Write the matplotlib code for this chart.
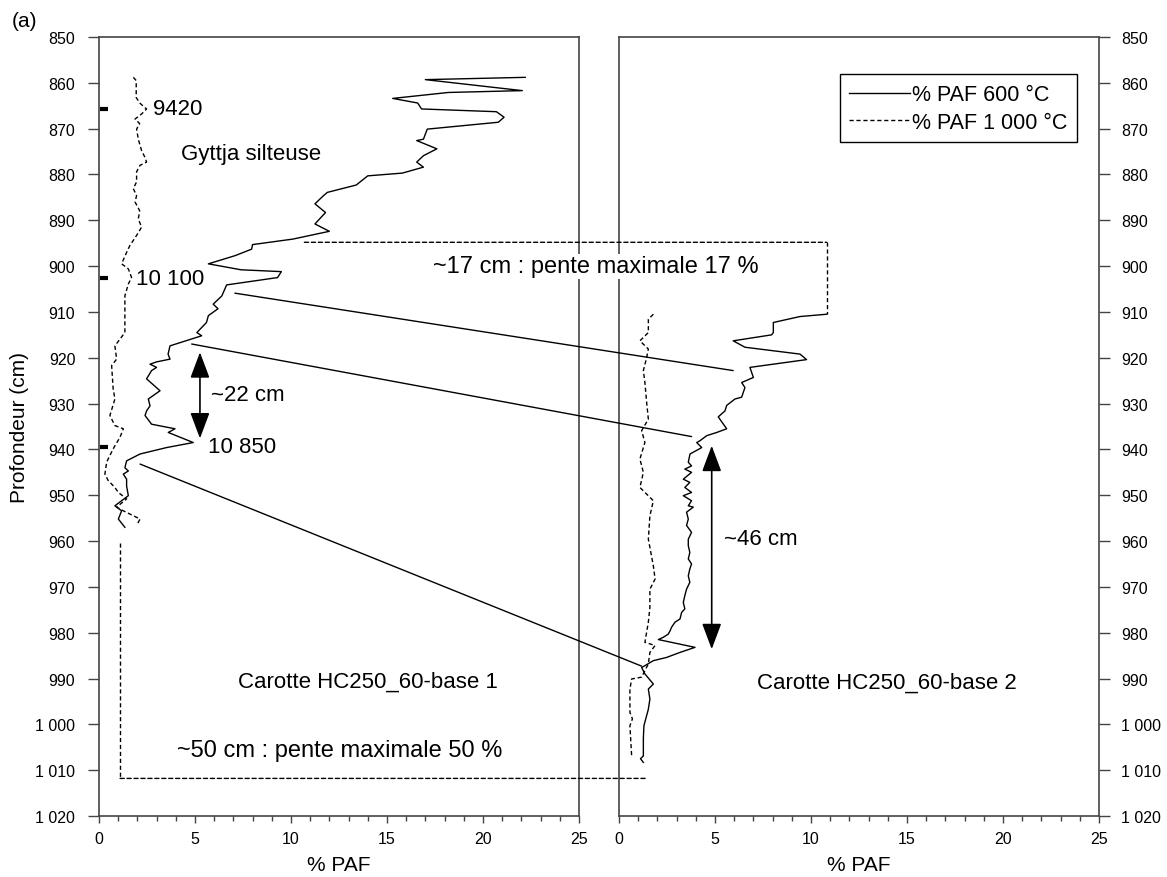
import numpy as np
import matplotlib
matplotlib.use('Agg')
import matplotlib.pyplot as plt
from matplotlib.patches import ConnectionPatch

plt.rcParams['font.family'] = ['Liberation Sans', 'DejaVu Sans']

# Carotte 1 : % PAF 600 °C
d1_600 = [858.8, 859.3, 861.7, 862.1, 863.4, 864.4, 865.7, 866.3, 867.5, 868.6,
          870.1, 872.3, 872.6, 874.4, 875.9, 877.3, 878.4, 879.7, 880.3, 882.3,
          883.9, 884.6, 886.4, 888.3, 890.8, 892.4, 894.1, 895.3, 896.3, 897.7,
          899.5, 900.8, 901.2, 902.5, 904.1, 906.5, 908.3, 909.3, 910.8, 912.3,
          914.5, 915.2, 917.4, 919.2, 920.3, 920.9, 921.4, 922.1, 922.8, 924.6,
          927.2, 929.0, 930.5, 931.6, 932.6, 934.5, 935.5, 936.3, 938.5, 939.6,
          941.0, 942.5, 944.0, 944.7, 945.4, 946.5, 948.0, 950.1, 952.3, 953.4,
          955.2, 957.0]
v1_600 = [22.2, 17.0, 22.05, 18.2, 15.3, 16.6, 16.8, 20.7, 21.1, 20.8,
          17.1, 16.9, 16.55, 17.6, 16.9, 16.55, 16.9, 15.8, 14.0, 13.4,
          11.9, 11.7, 11.25, 11.8, 11.25, 12.0, 10.1, 8.0, 7.95, 7.1,
          5.7, 7.4, 9.5, 9.3, 6.65, 6.4, 5.95, 6.2, 5.7, 5.6,
          5.1, 5.35, 3.7, 3.6, 3.7, 3.0, 2.66, 3.0, 2.74, 2.48,
          3.18, 2.57, 2.66, 2.48, 2.4, 2.74, 3.96, 3.61, 4.91, 3.52,
          2.14, 1.44, 1.35, 1.53, 1.27, 1.44, 1.44, 1.53, 0.83, 1.18,
          1.01, 1.35]

# Carotte 1 : % PAF 1 000 °C
d1_1000 = [858.8, 859.5, 863.2, 864.4, 865.7, 866.8, 867.9, 868.9, 870.1, 872.3,
           874.8, 876.3, 877.3, 878.0, 879.4, 881.6, 883.1, 884.6, 886.0, 887.9,
           889.7, 891.5, 893.3, 895.5, 897.0, 899.5, 900.6, 902.5, 903.9, 906.5,
           914.5, 917.4, 920.3, 921.7, 926.8, 929.0, 932.6, 934.8, 935.5, 937.4,
           939.2, 941.3, 942.8, 945.4, 946.8, 948.3, 949.4, 950.8, 952.6, 953.4,
           955.2, 956.6]
v1_1000 = [1.79, 1.94, 1.94, 2.12, 2.48, 2.22, 1.88, 2.12, 1.96, 2.05,
           2.22, 2.4, 2.48, 2.14, 1.96, 1.96, 1.79, 1.96, 1.88, 2.12,
           2.05, 2.22, 1.96, 1.61, 1.44, 1.18, 1.53, 1.7, 1.53, 1.35,
           1.35, 0.83, 0.92, 0.66, 0.74, 0.83, 0.57, 0.83, 1.27, 1.09,
           0.83, 0.57, 0.4, 0.31, 0.48, 0.83, 1.01, 1.44, 0.92, 1.27,
           2.14, 1.96]

# Carotte 2 : % PAF 600 °C
d2_600 = [910.5, 911.0, 912.3, 914.5, 915.0, 916.3, 917.7, 919.2, 920.4, 922.1,
          924.3, 925.4, 926.5, 928.6, 929.0, 930.4, 931.6, 932.9, 935.5, 936.3,
          937.0, 938.1, 938.5, 939.6, 941.0, 942.8, 943.6, 944.3, 945.0, 946.5,
          947.2, 948.3, 949.4, 950.1, 951.2, 952.3, 952.6, 953.7, 955.2, 956.6,
          958.1, 959.6, 961.0, 962.5, 963.9, 965.0, 966.1, 967.6, 969.0, 970.5,
          971.9, 973.4, 974.8, 975.6, 977.0, 977.7, 978.8, 979.6, 980.3, 981.0,
          981.5, 983.2, 984.3, 985.4, 986.1, 987.2, 987.6, 989.0, 991.2, 992.3,
          994.5, 996.7, 998.1, 1000.3, 1003.0, 1006.9, 1007.5, 1008.3]
v2_600 = [10.82, 9.43, 8.04, 8.04, 7.95, 5.95, 6.56, 9.43, 9.77, 6.82,
          7.0, 6.39, 6.56, 6.39, 6.04, 5.61, 5.52, 5.17, 5.61, 5.09,
          4.57, 4.22, 4.05, 4.31, 3.7, 3.61, 3.78, 3.43, 3.78, 3.35,
          3.69, 3.43, 3.78, 3.35, 3.78, 3.61, 3.87, 3.52, 3.61, 3.52,
          3.78, 3.61, 3.61, 3.69, 3.61, 3.78, 3.69, 3.61, 3.69, 3.52,
          3.43, 3.35, 3.43, 3.26, 3.18, 2.92, 2.74, 2.66, 2.57, 2.31,
          2.05, 3.96, 3.18, 2.48, 1.79, 1.35, 1.18, 1.35, 1.79, 1.53,
          1.61, 1.53, 1.44, 1.3, 1.27, 1.27, 1.12, 1.27]

# Carotte 2 : % PAF 1 000 °C
d2_1000 = [910.5, 911.6, 914.5, 916.3, 918.1, 920.0, 922.8, 925.4, 929.7, 933.4,
           935.9, 938.5, 942.1, 945.0, 948.3, 951.2, 954.5, 959.6, 965.4, 968.3,
           970.5, 974.5, 977.7, 982.1, 982.8, 984.3, 986.8, 989.7, 990.1, 992.3,
           997.4, 998.8, 1000.3, 1006.9]
v2_1000 = [1.79, 1.53, 1.53, 1.09, 1.53, 1.44, 1.27, 1.35, 1.44, 1.53,
           1.18, 1.35, 1.09, 1.27, 1.09, 1.79, 1.61, 1.53, 1.79, 1.88,
           1.61, 1.61, 1.53, 1.35, 1.88, 1.61, 1.53, 1.18, 0.66, 0.57,
           0.57, 0.7, 0.57, 0.66]

# dates
date_depths = [865.7, 902.7, 939.4]
date_labels = ['9420', '10 100', '10 850']
date_text_x = [2.8, 1.95, 5.7]

# correlations (x1, d1) -> (x2, d2)
corr_left = [(7.08, 905.9), (4.83, 917.0), (2.14, 943.2)]
corr_right = [(5.95, 922.8), (3.78, 937.2), (1.18, 987.3)]

depth_ticks = list(range(850, 1021, 10))
depth_labels = ['850', '860', '870', '880', '890', '900', '910', '920', '930',
                '940', '950', '960', '970', '980', '990', '1 000', '1 010', '1 020']
paf_ticks = [0, 5, 10, 15, 20, 25]

DASH = (0, (3, 2))
FS = 16

fig = plt.figure(figsize=(11.67, 8.78), dpi=100)
ax1 = fig.add_axes([0.0848, 0.0695, 0.4113, 0.8872])
ax2 = fig.add_axes([0.5304, 0.0695, 0.4113, 0.8872])

for ax in (ax1, ax2):
    ax.set_xlim(0, 25)
    ax.set_ylim(1020, 850)
    ax.set_xticks(paf_ticks)
    ax.set_xticks(np.arange(0, 26, 1), minor=True)
    ax.set_yticks(depth_ticks)
    ax.set_yticklabels(depth_labels)
    ax.tick_params(axis='x', which='major', direction='out', length=5, width=1,
                   labelsize=11.5, pad=6, color='#444444')
    ax.tick_params(axis='x', which='minor', direction='out', length=3.5, width=1,
                   color='#444444')
    ax.tick_params(axis='y', direction='out', length=8, width=1, labelsize=11.5,
                   pad=9, color='#444444')
    for s in ax.spines.values():
        s.set_color('#444444')
        s.set_linewidth(1.2)
    ax.set_xlabel('% PAF', fontsize=15)
    ax.xaxis.set_label_coords(0.5, -0.05)

ax2.yaxis.tick_right()
ax2.tick_params(axis='y', pad=8)

ax1.set_ylabel('Profondeur (cm)', fontsize=15)
ax1.yaxis.set_label_coords(-0.145, 0.5)

ax1.plot(v1_600, d1_600, color='black', lw=1.0)
ax1.plot(v1_1000, d1_1000, color='black', lw=1.0, linestyle=DASH)
l1, = ax2.plot(v2_600, d2_600, color='black', lw=1.0, label='% PAF 600 °C')
l2, = ax2.plot(v2_1000, d2_1000, color='black', lw=1.0, linestyle=DASH,
               label='% PAF 1 000 °C')

ax2.legend(handles=[l1, l2], loc='upper right', bbox_to_anchor=(0.954, 0.952),
           borderaxespad=0, fontsize=15.5, handlelength=2.8, handletextpad=0.1,
           fancybox=False, edgecolor='black', framealpha=1, borderpad=0.45,
           labelspacing=0.3)

# date markers
ax1.plot([0.25] * len(date_depths), date_depths, linestyle='none', marker='_',
         ms=6, mew=3, color='black', clip_on=False)
for x, d, lab in zip(date_text_x, date_depths, date_labels):
    ax1.text(x, d, lab, fontsize=FS, va='center', ha='left')

ax1.text(4.25, 875.5, 'Gyttja silteuse', fontsize=FS, va='center', ha='left')
ax1.text(7.24, 990.5, 'Carotte HC250_60-base 1', fontsize=FS, va='center', ha='left')
ax2.text(7.2, 990.7, 'Carotte HC250_60-base 2', fontsize=FS, va='center', ha='left')
ax1.text(5.82, 928.1, '~22 cm', fontsize=FS, va='center', ha='left')
ax2.text(5.47, 959.4, '~46 cm', fontsize=FS, va='center', ha='left')
ax1.text(12.55, 1005.6, '~50 cm : pente maximale 50 %', fontsize=FS + 1,
         va='center', ha='center')
ax2.text(-9.69, 900.0, '~17 cm : pente maximale 17 %', fontsize=FS + 1,
         va='center', ha='left', clip_on=False, zorder=5,
         bbox=dict(facecolor='white', edgecolor='none', pad=1))

# double arrows
arrow_style = '<|-|>,head_length=0.8,head_width=0.3'
ax1.annotate('', xy=(5.26, 918.8), xytext=(5.26, 937.6),
             arrowprops=dict(arrowstyle=arrow_style, color='black', lw=1.2,
                             mutation_scale=20, shrinkA=0, shrinkB=0))
ax2.annotate('', xy=(4.83, 939.2), xytext=(4.83, 983.6),
             arrowprops=dict(arrowstyle=arrow_style, color='black', lw=1.2,
                             mutation_scale=20, shrinkA=0, shrinkB=0))

# correlation lines between cores
for (xa, ya), (xb, yb) in zip(corr_left, corr_right):
    con = ConnectionPatch(xyA=(xa, ya), coordsA='data', axesA=ax1,
                          xyB=(xb, yb), coordsB='data', axesB=ax2,
                          color='black', lw=1.0)
    fig.add_artist(con)

# dashed brackets
con = ConnectionPatch(xyA=(10.7, 894.8), coordsA='data', axesA=ax1,
                      xyB=(10.82, 894.8), coordsB='data', axesB=ax2,
                      color='black', lw=1.0, linestyle=DASH)
fig.add_artist(con)
ax2.plot([10.82, 10.82], [894.8, 910.5], color='black', lw=1.0, linestyle=DASH)

ax1.plot([1.1, 1.1], [960.5, 1011.8], color='black', lw=1.0, linestyle=DASH)
con = ConnectionPatch(xyA=(1.1, 1011.8), coordsA='data', axesA=ax1,
                      xyB=(1.46, 1011.8), coordsB='data', axesB=ax2,
                      color='black', lw=1.0, linestyle=DASH)
fig.add_artist(con)

fig.text(0.01, 0.975, '(a)', fontsize=15, va='center', ha='left')

fig.savefig('out.png', dpi=100)
